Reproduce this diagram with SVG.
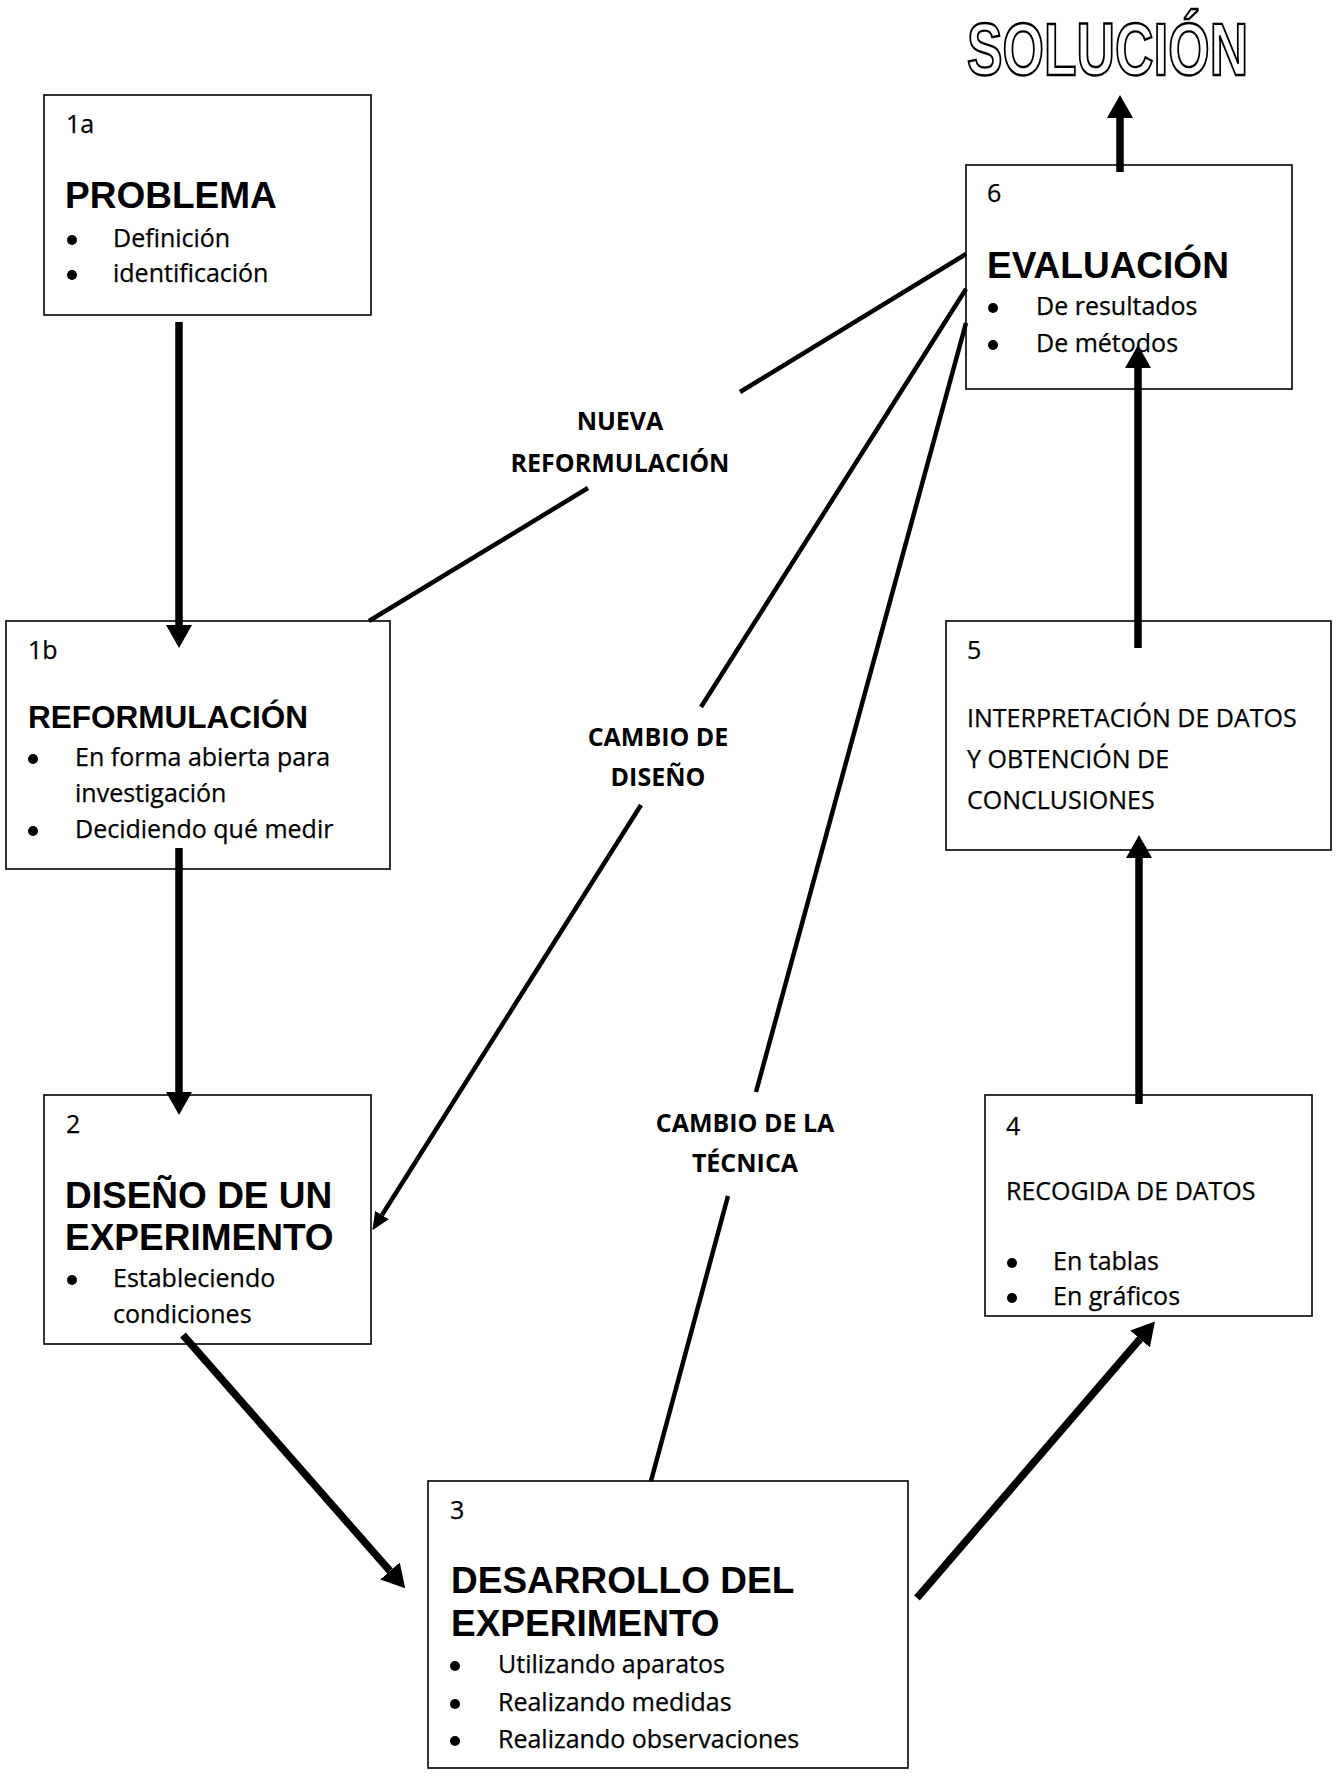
<svg xmlns="http://www.w3.org/2000/svg" width="1338" height="1775" viewBox="0 0 1338 1775">
<style>
.box{fill:#fff;stroke:#000;stroke-width:1.6}
.t{font-family:"Open Sans","Noto Sans",sans-serif;font-size:25px;fill:#000;stroke:#000;stroke-width:0.25}
.h{font-family:"Liberation Sans",Arial,sans-serif;font-weight:bold;font-size:37px;fill:#000}
.lab{font-family:"Open Sans","Noto Sans",sans-serif;font-weight:bold;font-size:25px;fill:#000;text-anchor:middle}
.thick{stroke:#000;stroke-width:7.5;fill:none}
.thin{stroke:#000;stroke-width:4.5;fill:none}
.sol{font-family:"Liberation Sans",Arial,sans-serif;font-weight:bold;font-size:74px;fill:#fff;stroke:#000;stroke-width:2.4}
</style>
<defs>
<marker id="big" markerUnits="userSpaceOnUse" markerWidth="24" markerHeight="26" refX="0" refY="13" orient="auto">
<path d="M0,0 L23,13 L0,26 z" fill="#000"/>
</marker>
<marker id="small" markerUnits="userSpaceOnUse" markerWidth="18" markerHeight="16" refX="0" refY="8" orient="auto">
<path d="M0,0 L18,8 L0,16 z" fill="#000"/>
</marker>
</defs>
<rect width="1338" height="1775" fill="#fff"/>

<g id="solucion">
<text class="sol" transform="translate(967,75) scale(0.72,1)" x="0" y="0">SOLUCIÓN</text>
</g>

<g id="node-1a">
<rect class="box" x="44" y="95" width="327" height="220"/>
<text class="t" x="66" y="133">1a</text>
<text class="h" x="65" y="208">PROBLEMA</text>
<circle cx="72" cy="240" r="5"/><text class="t" x="113" y="247">Definición</text>
<circle cx="72" cy="275" r="5"/><text class="t" x="113" y="282">identificación</text>
</g>

<g id="node-1b">
<rect class="box" x="6" y="621" width="384" height="248"/>
<text class="t" x="28" y="659">1b</text>
<text class="h" x="28" y="728" style="font-size:31.5px">REFORMULACIÓN</text>
<circle cx="33" cy="759" r="5"/><text class="t" x="75" y="766">En forma abierta para</text>
<text class="t" x="75" y="802">investigación</text>
<circle cx="33" cy="831" r="5"/><text class="t" x="75" y="838">Decidiendo qué medir</text>
</g>

<g id="node-2">
<rect class="box" x="44" y="1095" width="327" height="249"/>
<text class="t" x="66" y="1133">2</text>
<text class="h" x="65" y="1208">DISEÑO DE UN</text>
<text class="h" x="65" y="1250">EXPERIMENTO</text>
<circle cx="72" cy="1280" r="5"/><text class="t" x="113" y="1287">Estableciendo</text>
<text class="t" x="113" y="1323">condiciones</text>
</g>

<g id="node-3">
<rect class="box" x="428" y="1481" width="480" height="287"/>
<text class="t" x="450" y="1519">3</text>
<text class="h" x="451" y="1593">DESARROLLO DEL</text>
<text class="h" x="451" y="1636">EXPERIMENTO</text>
<circle cx="455" cy="1666" r="5"/><text class="t" x="498" y="1673">Utilizando aparatos</text>
<circle cx="455" cy="1704" r="5"/><text class="t" x="498" y="1711">Realizando medidas</text>
<circle cx="455" cy="1741" r="5"/><text class="t" x="498" y="1748">Realizando observaciones</text>
</g>

<g id="node-4">
<rect class="box" x="985" y="1095" width="327" height="221"/>
<text class="t" x="1006" y="1135">4</text>
<text class="t" x="1006" y="1200">RECOGIDA DE DATOS</text>
<circle cx="1012" cy="1263" r="5"/><text class="t" x="1053" y="1270">En tablas</text>
<circle cx="1012" cy="1298" r="5"/><text class="t" x="1053" y="1305">En gráficos</text>
</g>

<g id="node-5">
<rect class="box" x="946" y="621" width="385" height="229"/>
<text class="t" x="967" y="659">5</text>
<text class="t" x="967" y="727">INTERPRETACIÓN DE DATOS</text>
<text class="t" x="967" y="768">Y OBTENCIÓN DE</text>
<text class="t" x="967" y="809">CONCLUSIONES</text>
</g>

<g id="node-6">
<rect class="box" x="966" y="165" width="326" height="224"/>
<text class="t" x="987" y="202">6</text>
<text class="h" x="987" y="278">EVALUACIÓN</text>
<circle cx="993" cy="308" r="5"/><text class="t" x="1036" y="315">De resultados</text>
<circle cx="993" cy="345" r="5"/><text class="t" x="1036" y="352">De métodos</text>
</g>

<g id="connectors">
<line class="thick" x1="179" y1="322" x2="179" y2="625" marker-end="url(#big)"/>
<line class="thick" x1="179" y1="848" x2="179" y2="1092" marker-end="url(#big)"/>
<line class="thick" x1="183" y1="1335" x2="390" y2="1571" marker-end="url(#big)"/>
<line class="thick" x1="917" y1="1598" x2="1140" y2="1339" marker-end="url(#big)"/>
<line class="thick" x1="1139" y1="1104" x2="1139" y2="858" marker-end="url(#big)"/>
<line class="thick" x1="1138" y1="648" x2="1138" y2="368" marker-end="url(#big)"/>
<line class="thick" x1="1120" y1="172" x2="1120" y2="118" marker-end="url(#big)"/>

<line class="thin" x1="966" y1="254" x2="740" y2="392"/>
<line class="thin" x1="588" y1="488" x2="369" y2="621"/>
<line class="thin" x1="966" y1="289" x2="701" y2="707"/>
<line class="thin" x1="641" y1="805" x2="382" y2="1215" marker-end="url(#small)"/>
<line class="thin" x1="966" y1="323" x2="756" y2="1092"/>
<line class="thin" x1="728" y1="1196" x2="651" y2="1481"/>

<text class="lab" x="620" y="430">NUEVA</text>
<text class="lab" x="620" y="472">REFORMULACIÓN</text>
<text class="lab" x="658" y="746">CAMBIO DE</text>
<text class="lab" x="658" y="786">DISEÑO</text>
<text class="lab" x="745" y="1132">CAMBIO DE LA</text>
<text class="lab" x="745" y="1172">TÉCNICA</text>
</g>
</svg>
